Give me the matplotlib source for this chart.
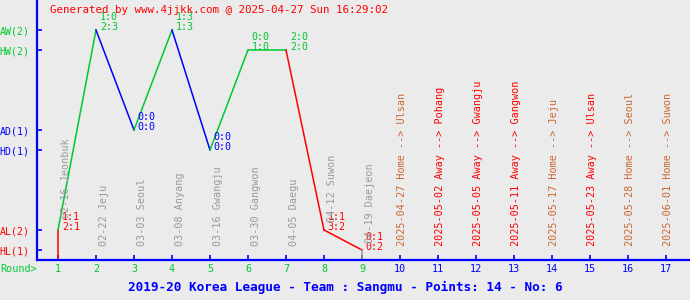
import matplotlib
matplotlib.use('Agg')
import matplotlib.pyplot as plt

# played rounds
rounds = [1, 2, 3, 4, 5, 6, 7, 8, 9]
results = ['AL', 'AW', 'AD', 'AW', 'HD', 'HW', 'HW', 'AL', 'HL']
score_top = ['1:1', '1:0', '0:0', '1:3', '0:0', '0:0', '2:0', '1:1', '0:1']
score_bot = ['2:1', '2:3', '0:0', '1:3', '0:0', '1:0', '2:0', '3:2', '0:2']
played = ['02-16 Jeonbuk', '02-22 Jeju', '03-03 Seoul', '03-08 Anyang', '03-16 Gwangju',
          '03-30 Gangwon', '04-05 Daegu', '04-12 Suwon', '04-19 Daejeon']

# upcoming fixtures
future_rounds = [10, 11, 12, 13, 14, 15, 16, 17]
future = ['2025-04-27 Home --> Ulsan', '2025-05-02 Away --> Pohang', '2025-05-05 Away --> Gwangju',
          '2025-05-11 Away --> Gangwon', '2025-05-17 Home --> Jeju', '2025-05-23 Away --> Ulsan',
          '2025-05-28 Home --> Seoul', '2025-06-01 Home --> Suwon']

level_names = ['HL(1)', 'AL(2)', 'HD(1)', 'AD(1)', 'HW(2)', 'AW(2)']
title = '2019-20 Korea League - Team : Sangmu - Points: 14 - No: 6'
stamp = 'Generated by www.4jjkk.com @ 2025-04-27 Sun 16:29:02'

# layout
level_y = {'HL': 1, 'AL': 3, 'HD': 11, 'AD': 13, 'HW': 21, 'AW': 23}
GREEN, BLUE, RED, GRAY, BROWN = '#00c832', '#0000ff', '#ff0000', '#999999', '#cc6633'
res_col = {'W': GREEN, 'D': BLUE, 'L': RED}
label_bottom = [4.2, 1.4, 1.4, 1.4, 1.4, 1.4, 1.4, 3.8, 1.7]
BG = '#ebebeb'
MONO = 'DejaVu Sans Mono'
plt.rcParams['font.family'] = MONO

W, H = 690, 300
fig = plt.figure(figsize=(W / 100, H / 100), dpi=100, facecolor=BG)
ax = fig.add_axes([37 / W, 40 / H, (W - 37) / W, 260 / H])
ax.set_facecolor(BG)
step = 38
x0 = 1 + (37 - 58) / step
ax.set_xlim(x0, x0 + (W - 37) / step)
ax.set_ylim(0, 26)

for s in ['top', 'right']:
    ax.spines[s].set_visible(False)
for s in ['left', 'bottom']:
    ax.spines[s].set_color(BLUE)
    ax.spines[s].set_linewidth(1.6)

ys = [level_y[r] for r in results]
# first segment from baseline, last back to baseline
ax.plot([rounds[0], rounds[0]], [0, ys[0]], color=res_col[results[0][1]], lw=1.1)
for i in range(1, len(rounds)):
    ax.plot([rounds[i - 1], rounds[i]], [ys[i - 1], ys[i]], color=res_col[results[i][1]], lw=1.1)
ax.plot([rounds[-1], rounds[-1]], [ys[-1], 0], color=GRAY, lw=1.1)

for r, y, res, t, b in zip(rounds, ys, results, score_top, score_bot):
    c = res_col[res[1]]
    ax.text(r + 0.1, y + 1.3, t, color=c, fontsize=7.2, ha='left', va='center')
    ax.text(r + 0.1, y + 0.35, b, color=c, fontsize=7.2, ha='left', va='center')

for r, lab, yb in zip(rounds, played, label_bottom):
    ax.text(r + 0.21, yb, lab, color=GRAY, fontsize=7.3, rotation=90,
            ha='center', va='bottom')
for r, lab in zip(future_rounds, future):
    c = RED if 'Away' in lab else BROWN
    ax.text(r + 0.04, 1.4, lab, color=c, fontsize=7.3, rotation=90,
            ha='center', va='bottom')

ax.set_xticks(rounds + future_rounds)
ax.set_xticklabels([str(r) for r in rounds + future_rounds], fontsize=7.3)
for lab, r in zip(ax.get_xticklabels(), rounds + future_rounds):
    lab.set_color(GREEN if r <= len(rounds) else BLUE)
ax.tick_params(axis='x', direction='in', length=3.5, width=1.2, color=BLUE, pad=3)

ax.set_yticks([level_y[n[:2]] for n in level_names])
ax.set_yticklabels(level_names, fontsize=7.1)
for lab, n in zip(ax.get_yticklabels(), level_names):
    lab.set_color(res_col[n[1]])
ax.tick_params(axis='y', direction='in', length=3.5, width=1.2, color=BLUE, pad=5.3)

fig.text(0, 1 - 269 / H, 'Round>', color=GREEN, fontsize=7.3, ha='left', va='center')
fig.text(345 / W, 1 - 287 / H, title, color=BLUE, fontsize=9.2, fontweight='bold',
         ha='center', va='center')
fig.text(50 / W, 1 - 10 / H, stamp, color=RED, fontsize=7.8, ha='left', va='center')

fig.savefig('out.png', dpi=100, facecolor=BG)
